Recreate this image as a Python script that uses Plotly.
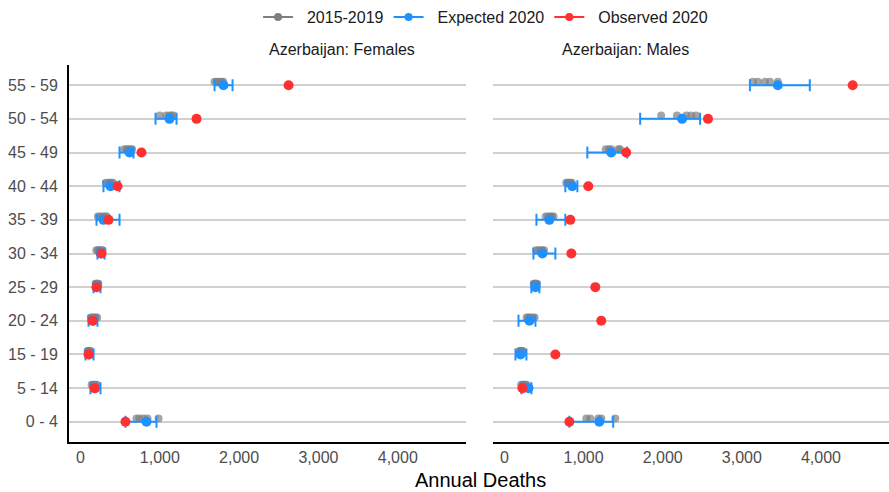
import plotly.graph_objects as go

# ---- data (age groups listed bottom to top) ----
age_groups = ["0 - 4", "5 - 14", "15 - 19", "20 - 24", "25 - 29", "30 - 34",
              "35 - 39", "40 - 44", "45 - 49", "50 - 54", "55 - 59"]

# 2015-2019 annual deaths (five years per age group)
fem_hist = [
    [706, 744, 795, 845, 984],
    [140, 160, 175, 190, 205],
    [90, 100, 105, 115, 125],
    [130, 150, 170, 190, 210],
    [190, 200, 210, 215, 225],
    [200, 220, 240, 260, 280],
    [220, 250, 280, 310, 330],
    [320, 350, 370, 390, 410],
    [550, 580, 600, 630, 650],
    [1000, 1080, 1120, 1150, 1170],
    [1690, 1720, 1750, 1780, 1800],
]
male_hist = [
    [1034, 1084, 1185, 1223, 1400],
    [210, 230, 250, 260, 280],
    [190, 200, 210, 220, 230],
    [280, 300, 320, 350, 380],
    [370, 380, 390, 400, 410],
    [400, 430, 460, 480, 500],
    [520, 550, 580, 600, 620],
    [780, 800, 820, 835, 850],
    [1280, 1320, 1350, 1440, 1460],
    [1980, 2180, 2300, 2360, 2420],
    [3140, 3203, 3291, 3354, 3455],
]

fem_expected = [832, 185, 110, 160, 205, 255, 290, 378, 618, 1122, 1803]
fem_lower    = [567, 126, 63, 101, 164, 214, 202, 290, 492, 946, 1690]
fem_upper    = [958, 252, 164, 214, 252, 303, 492, 492, 668, 1211, 1917]
fem_observed = [567, 177, 101, 151, 202, 265, 353, 467, 769, 1463, 2623]

male_expected = [1198, 303, 202, 315, 391, 479, 567, 857, 1349, 2245, 3455]
male_lower    = [820, 214, 139, 177, 340, 366, 404, 769, 1047, 1715, 3102]
male_upper    = [1374, 340, 277, 391, 441, 643, 769, 921, 1551, 2472, 3859]
male_observed = [820, 227, 643, 1223, 1148, 845, 832, 1059, 1538, 2572, 4401]

x_ticks = [0, 1000, 2000, 3000, 4000]
x_tick_labels = ["0", "1,000", "2,000", "3,000", "4,000"]

legend_names = ["2015-2019", "Expected 2020", "Observed 2020"]

GRAY = "rgba(127,127,127,0.7)"
BLUE = "#1E90FF"
RED = "#FF3030"
FONT = "Liberation Sans, Arial, sans-serif"

fig = go.Figure()
pos = list(range(len(age_groups)))

panels = [
    ("x", "y", fem_hist, fem_expected, fem_lower, fem_upper, fem_observed),
    ("x2", "y2", male_hist, male_expected, male_lower, male_upper, male_observed),
]
for xa, ya, hist, exp_, lo, hi, obs in panels:
    hx, hy = [], []
    for i, vals in enumerate(hist):
        for v in vals:
            hx.append(v)
            hy.append(i + 0.1)
    fig.add_trace(go.Scatter(x=hx, y=hy, mode="markers", xaxis=xa, yaxis=ya,
                             marker=dict(color=GRAY, size=8), showlegend=False,
                             hoverinfo="x"))
    fig.add_trace(go.Scatter(
        x=exp_, y=pos, mode="markers", xaxis=xa, yaxis=ya,
        marker=dict(color=BLUE, size=10), showlegend=False,
        error_x=dict(type="data", symmetric=False,
                     array=[h - e for h, e in zip(hi, exp_)],
                     arrayminus=[e - l for e, l in zip(exp_, lo)],
                     color=BLUE, thickness=2, width=6)))
    fig.add_trace(go.Scatter(x=obs, y=pos, mode="markers", xaxis=xa, yaxis=ya,
                             marker=dict(color=RED, size=10), showlegend=False))

# legend entries
NB = "\u00a0"
for name, col in zip(legend_names, ["#7F7F7F", BLUE, RED]):
    fig.add_trace(go.Scatter(x=[None], y=[None], mode="lines+markers",
                             name=NB * 2 + name,
                             line=dict(color=col, width=2), marker=dict(color=col, size=8)))

xr = [-145, 4860]
yr = [-0.6, len(age_groups) - 0.4]
xcommon = dict(range=xr, tickvals=x_ticks, ticktext=x_tick_labels, showgrid=False,
               zeroline=False, showline=True, linecolor="black", linewidth=2,
               ticks="", tickfont=dict(size=16, color="#4D4D4D", family=FONT),
               fixedrange=True)
fig.update_layout(
    width=889, height=492,
    margin=dict(l=69, r=0, t=65, b=50),
    paper_bgcolor="white", plot_bgcolor="white",
    font=dict(family=FONT, color="#1A1A1A"),
    xaxis=dict(domain=[0, 0.4841], anchor="y", **xcommon),
    xaxis2=dict(domain=[0.5171, 1], anchor="y2", **xcommon),
    yaxis=dict(domain=[0, 1], anchor="x", range=yr, tickvals=pos, ticktext=age_groups,
               showgrid=True, gridcolor="#D0D0D0", gridwidth=1.6, zeroline=False,
               showline=True, linecolor="black", linewidth=2, ticks="",
               ticklabelstandoff=6,
               tickfont=dict(size=16, color="#4D4D4D", family=FONT)),
    yaxis2=dict(domain=[0, 1], anchor="x2", range=yr, tickvals=pos, showticklabels=False,
                showgrid=True, gridcolor="#D0D0D0", gridwidth=1.6, zeroline=False,
                showline=False),
    legend=dict(orientation="h", x=0.508, xanchor="center", y=1.127, yanchor="middle",
                font=dict(size=16, color="#1A1A1A", family=FONT), bgcolor="rgba(0,0,0,0)"),
    showlegend=True,
    annotations=[
        dict(text="Azerbaijan: Females", x=0.2420, y=1.04, xref="paper", yref="paper",
             showarrow=False, font=dict(size=16, color="#1A1A1A"), yanchor="middle"),
        dict(text="Azerbaijan: Males", x=0.7585, y=1.04, xref="paper", yref="paper",
             showarrow=False, font=dict(size=16, color="#1A1A1A"), yanchor="middle"),
        dict(text="Annual Deaths", x=0.5018, y=-0.102, xref="paper", yref="paper",
             showarrow=False, font=dict(size=20, color="black"), yanchor="middle"),
    ],
)

fig.write_html("out.html", config={"displayModeBar": False},
               post_script="document.body.style.margin='0';")
